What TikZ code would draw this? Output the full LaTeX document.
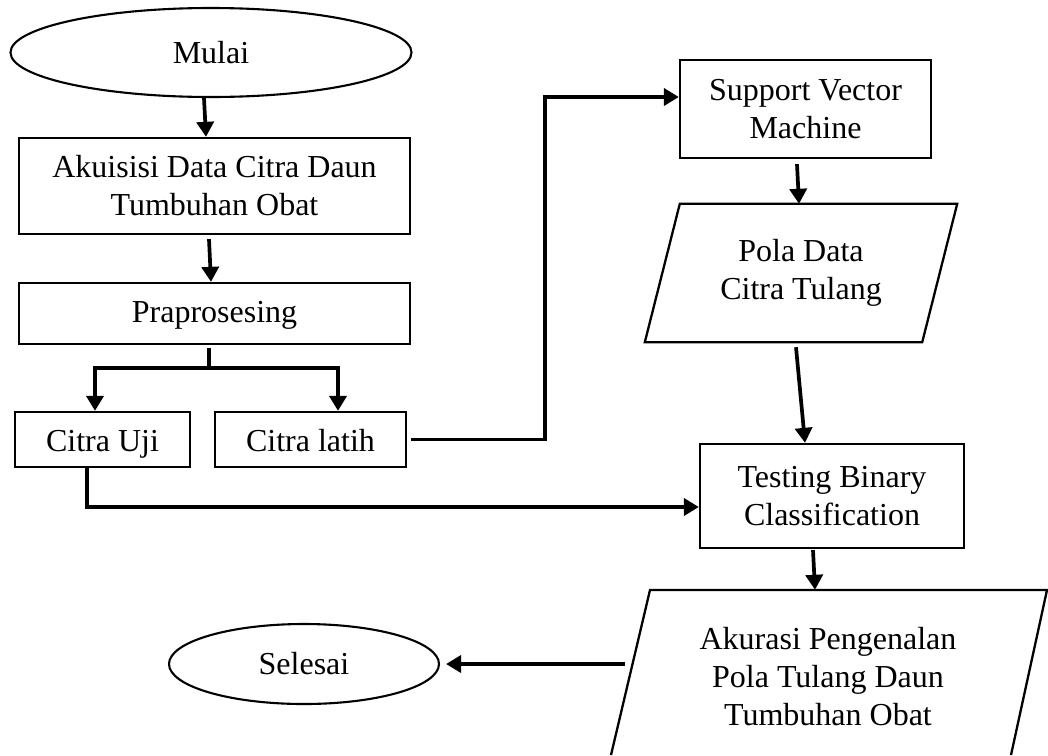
\documentclass[tikz,border=0pt]{standalone}
\usepackage{fontspec}
\setmainfont{Liberation Serif}
\usetikzlibrary{shapes.geometric,arrows.meta}
\begin{document}
\begin{tikzpicture}[x=1pt,y=-1pt,
  every node/.style={font=\fontsize{32}{38}\selectfont, inner sep=0pt, align=center},
  boxnode/.style={draw, line width=2.3pt, rectangle},
  termnode/.style={draw, line width=2.1pt, ellipse},
  oneline/.style={text height=23pt, text depth=0pt},
  outline/.style={line width=2.3pt, line join=miter},
  conn/.style={line width=3.7pt},
  arr/.style={line width=3.7pt, -{Triangle[length=15pt,width=17pt]}}]
\useasboundingbox[fill=white] (0,0) rectangle (1048,755);

% nodes
\node[termnode, minimum width=401, minimum height=89] (mulai) at (211,52.5) {Mulai};
\node[boxnode, minimum width=391, minimum height=96] (akuisisi) at (214.5,186) {Akuisisi Data Citra Daun\\Tumbuhan Obat};
\node[boxnode, minimum width=391, minimum height=61, text height=23pt, text depth=5pt] (prap) at (214.5,313.5) {Praprosesing};
\node[boxnode, oneline, minimum width=175, minimum height=55] (uji) at (102.5,439.5) {Citra Uji};
\node[boxnode, oneline, minimum width=191, minimum height=55] (latih) at (310.5,439.5) {Citra latih};
\node[boxnode, minimum width=251, minimum height=98] (svm) at (805.5,109) {Support Vector\\Machine};
\node[minimum width=277, minimum height=138] (pola) at (801,273) {Pola Data\\Citra Tulang};
\node[boxnode, minimum width=264, minimum height=104] (test) at (832,496) {Testing Binary\\Classification};
\node[minimum width=406, minimum height=174] (aku) at (828,677) {Akurasi Pengenalan\\Pola Tulang Daun\\Tumbuhan Obat};
\node[termnode, minimum width=270, minimum height=80] (selesai) at (304,664) {Selesai};

% parallelogram outlines
\draw[outline] ([xshift=17.5]pola.north west) -- ([xshift=17.5]pola.north east)
  -- ([xshift=-17.5]pola.south east) -- ([xshift=-17.5]pola.south west) -- cycle;
\draw[outline] (611,755) -- (650,590) -- (1047,590) -- (1011,755);

% connectors
\draw[arr] ([xshift=-7]mulai.south) -- ([xshift=-8.5]akuisisi.north);
\draw[arr] ([xshift=-5.5,yshift=-4]akuisisi.south) -- ([xshift=-3.5]prap.north);
\coordinate (br) at (209,368);
\draw[conn] ([xshift=-5.5,yshift=-3]prap.south) -- (br);
\draw[arr] (br) -| ([xshift=-7.5]uji.north);
\draw[arr] (br) -| ([xshift=27.5]latih.north);
\draw[arr] ([xshift=4]latih.east) -- ++(134,0) |- ([yshift=12]svm.west);
\draw[arr] ([xshift=-15.5]uji.south) |- ([yshift=-11]test.west);
\draw[arr] ([xshift=-8.5,yshift=-5]svm.south) -- ([xshift=-2]pola.north);
\draw[arr] ([xshift=-5,yshift=-5]pola.south) -- ([xshift=-27]test.north);
\draw[arr] ([xshift=-19,yshift=-1]test.south) -- ([xshift=-13]aku.north);
\draw[arr] ([yshift=13]aku.west) -- ([xshift=6]selesai.east);
\end{tikzpicture}
\end{document}
